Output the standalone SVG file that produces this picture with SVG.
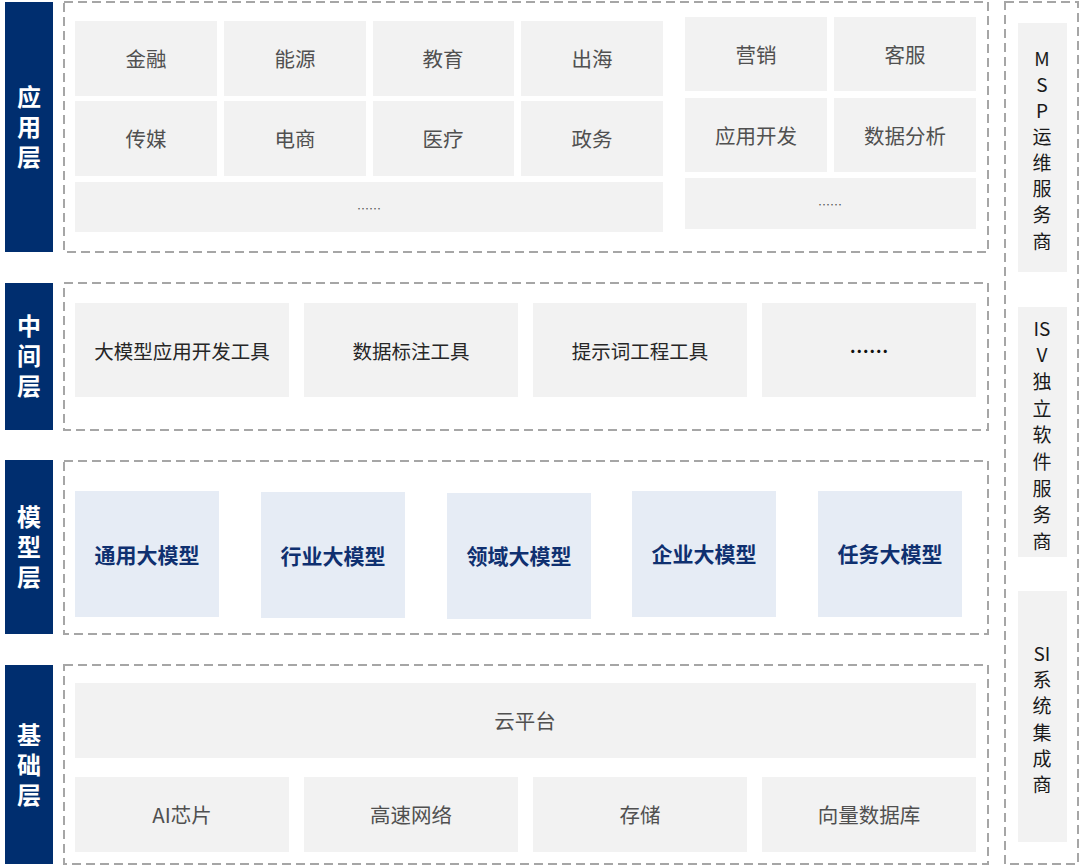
<svg xmlns="http://www.w3.org/2000/svg" width="1080" height="867" viewBox="0 0 1080 867">
<style>
.bg{fill:#ffffff}
.lab{fill:#002e6f}
.labt{fill:#ffffff;font-family:"Noto Sans CJK SC","Noto Sans",sans-serif;font-size:24px;font-weight:bold;text-anchor:middle;writing-mode:vertical-rl;text-orientation:upright;letter-spacing:6px}
.dash{fill:none;stroke:#a6a6a6;stroke-width:2;stroke-dasharray:9 5}
.box{fill:#f2f2f2}
.mbox{fill:#e6ecf5}
.t1{fill:#505050;font-family:"Noto Sans CJK SC","Noto Sans",sans-serif;font-size:20.5px;text-anchor:middle;dominant-baseline:central}
.t2{fill:#262626;font-family:"Noto Sans CJK SC","Noto Sans",sans-serif;font-size:19.5px;text-anchor:middle;dominant-baseline:central}
.tm{fill:#0f3070;font-family:"Noto Sans CJK SC","Noto Sans",sans-serif;font-size:21px;font-weight:bold;text-anchor:middle;dominant-baseline:central}
.dots{fill:#555555;font-family:"Noto Sans CJK SC","Noto Sans",sans-serif;font-size:12px;text-anchor:middle;dominant-baseline:central}
.tr{fill:#1a1a1a;font-family:"Noto Sans CJK SC","Noto Sans",sans-serif;font-size:19px;text-anchor:middle;dominant-baseline:central}
</style>
<rect class="bg" x="0" y="0" width="1080" height="867"/>

<g id="layer-labels">
  <g id="label-app"><rect class="lab" x="5" y="2" width="48" height="250"/>
    <text class="labt" x="29" y="130">应用层</text></g>
  <g id="label-mid"><rect class="lab" x="5" y="283" width="48" height="147"/>
    <text class="labt" x="29" y="359">中间层</text></g>
  <g id="label-model"><rect class="lab" x="5" y="460" width="48" height="174"/>
    <text class="labt" x="29" y="550">模型层</text></g>
  <g id="label-base"><rect class="lab" x="5" y="665" width="48" height="199"/>
    <text class="labt" x="29" y="768">基础层</text></g>
</g>

<g id="frames">
  <rect class="dash" x="64" y="2" width="924" height="250"/>
  <rect class="dash" x="64" y="283" width="924" height="147"/>
  <rect class="dash" x="64" y="461" width="924" height="173"/>
  <rect class="dash" x="64" y="665" width="924" height="199"/>
  <rect class="dash" x="1005" y="2" width="73" height="862"/>
</g>

<g id="app-layer">
  <g id="n-jinrong"><rect class="box" x="75" y="21" width="142" height="75"/><text class="t1" x="146" y="58">金融</text></g>
  <g id="n-nengyuan"><rect class="box" x="224" y="21" width="142" height="75"/><text class="t1" x="295" y="58">能源</text></g>
  <g id="n-jiaoyu"><rect class="box" x="373" y="21" width="141" height="75"/><text class="t1" x="443" y="58">教育</text></g>
  <g id="n-chuhai"><rect class="box" x="521" y="21" width="142" height="75"/><text class="t1" x="592" y="58">出海</text></g>
  <g id="n-chuanmei"><rect class="box" x="75" y="101" width="142" height="75"/><text class="t1" x="146" y="138">传媒</text></g>
  <g id="n-dianshang"><rect class="box" x="224" y="101" width="142" height="75"/><text class="t1" x="295" y="138">电商</text></g>
  <g id="n-yiliao"><rect class="box" x="373" y="101" width="141" height="75"/><text class="t1" x="443" y="138">医疗</text></g>
  <g id="n-zhengwu"><rect class="box" x="521" y="101" width="142" height="75"/><text class="t1" x="592" y="138">政务</text></g>
  <g id="n-app-more1"><rect class="box" x="75" y="182" width="588" height="50"/><text class="dots" x="369" y="208">……</text></g>
  <g id="n-yingxiao"><rect class="box" x="685" y="17" width="142" height="74"/><text class="t1" x="756" y="54">营销</text></g>
  <g id="n-kefu"><rect class="box" x="834" y="17" width="142" height="74"/><text class="t1" x="905" y="54">客服</text></g>
  <g id="n-yykf"><rect class="box" x="685" y="98" width="142" height="74"/><text class="t1" x="756" y="135">应用开发</text></g>
  <g id="n-sjfx"><rect class="box" x="834" y="98" width="142" height="74"/><text class="t1" x="905" y="135">数据分析</text></g>
  <g id="n-app-more2"><rect class="box" x="685" y="178" width="291" height="51"/><text class="dots" x="830" y="204">……</text></g>
</g>

<g id="mid-layer">
  <g id="n-dmxkf"><rect class="box" x="75" y="303" width="214" height="94"/><text class="t2" x="182" y="350">大模型应用开发工具</text></g>
  <g id="n-sjbz"><rect class="box" x="304" y="303" width="214" height="94"/><text class="t2" x="411" y="350">数据标注工具</text></g>
  <g id="n-tsc"><rect class="box" x="533" y="303" width="214" height="94"/><text class="t2" x="640" y="350">提示词工程工具</text></g>
  <g id="n-mid-more"><rect class="box" x="762" y="303" width="214" height="94"/><text class="t2" x="869" y="350" style="font-weight:bold;fill:#111">……</text></g>
</g>

<g id="model-layer">
  <g id="n-tongyong"><rect class="mbox" x="75" y="491" width="144" height="126"/><text class="tm" x="147" y="554">通用大模型</text></g>
  <g id="n-hangye"><rect class="mbox" x="261" y="492" width="144" height="126"/><text class="tm" x="333" y="555">行业大模型</text></g>
  <g id="n-lingyu"><rect class="mbox" x="447" y="493" width="144" height="126"/><text class="tm" x="519" y="555">领域大模型</text></g>
  <g id="n-qiye"><rect class="mbox" x="632" y="491" width="144" height="126"/><text class="tm" x="704" y="553">企业大模型</text></g>
  <g id="n-renwu"><rect class="mbox" x="818" y="491" width="144" height="126"/><text class="tm" x="890" y="553">任务大模型</text></g>
</g>

<g id="base-layer">
  <g id="n-cloud"><rect class="box" x="75" y="683" width="901" height="75"/><text class="t1" x="525" y="720">云平台</text></g>
  <g id="n-aichip"><rect class="box" x="75" y="777" width="214" height="75"/><text class="t1" x="182" y="814">AI芯片</text></g>
  <g id="n-network"><rect class="box" x="304" y="777" width="214" height="75"/><text class="t1" x="411" y="814">高速网络</text></g>
  <g id="n-storage"><rect class="box" x="533" y="777" width="214" height="75"/><text class="t1" x="640" y="814">存储</text></g>
  <g id="n-vecdb"><rect class="box" x="762" y="777" width="214" height="75"/><text class="t1" x="869" y="814">向量数据库</text></g>
</g>

<g id="side-column">
  <g id="n-msp"><rect class="box" x="1018" y="23" width="49" height="249"/>
    <text class="tr" x="1042" y="57">M</text><text class="tr" x="1042" y="83">S</text><text class="tr" x="1042" y="109">P</text>
    <text class="tr" x="1042" y="135">运</text><text class="tr" x="1042" y="161">维</text><text class="tr" x="1042" y="187">服</text>
    <text class="tr" x="1042" y="213">务</text><text class="tr" x="1042" y="240">商</text></g>
  <g id="n-isv"><rect class="box" x="1018" y="307" width="49" height="250"/>
    <text class="tr" x="1042" y="327">IS</text><text class="tr" x="1042" y="353">V</text><text class="tr" x="1042" y="380">独</text>
    <text class="tr" x="1042" y="407">立</text><text class="tr" x="1042" y="433">软</text><text class="tr" x="1042" y="460">件</text>
    <text class="tr" x="1042" y="487">服</text><text class="tr" x="1042" y="513">务</text><text class="tr" x="1042" y="540">商</text></g>
  <g id="n-si"><rect class="box" x="1018" y="591" width="49" height="251"/>
    <text class="tr" x="1042" y="652">SI</text><text class="tr" x="1042" y="678">系</text><text class="tr" x="1042" y="704">统</text>
    <text class="tr" x="1042" y="731">集</text><text class="tr" x="1042" y="757">成</text><text class="tr" x="1042" y="783">商</text></g>
</g>

<g id="connectors"></g>
</svg>
